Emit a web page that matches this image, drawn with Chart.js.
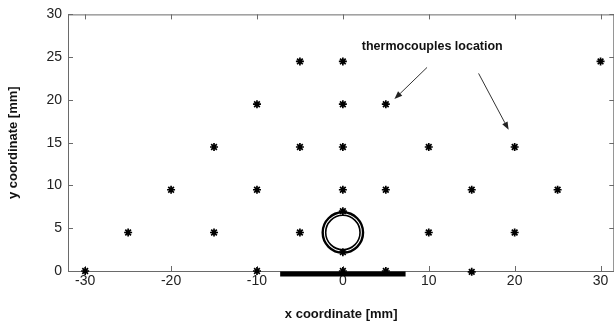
<!DOCTYPE html>
<html>
<head>
<meta charset="utf-8">
<script src="https://cdn.jsdelivr.net/npm/chart.js@4.4.1/dist/chart.umd.min.js"></script>
<style>
  html, body { margin: 0; padding: 0; background: #fff; overflow: hidden; }
  #wrap { width: 620px; height: 328px; }
</style>
</head>
<body>
<div id="wrap"><canvas id="plot" width="620" height="328"></canvas></div>
<script>
// thermocouple positions [mm]
const tcX = [-5, 0, 30,  -10, 0, 5,  -15, -5, 0, 10, 20,  -20, -10, 0, 5, 15, 25,  -25, -15, -5, 10, 20,  0, 0,  -30, -10, 0, 5, 15];
const tcY = [24.5, 24.5, 24.5,  19.5, 19.5, 19.5,  14.5, 14.5, 14.5, 14.5, 14.5,  9.5, 9.5, 9.5, 9.5, 9.5, 9.5,  4.5, 4.5, 4.5, 4.5, 4.5,  7, 2.2,  0, 0, 0, 0, -0.1];

// heater strip along the bottom and the tube cross-section
const stripX = [-7.3, 7.3];
const stripY = [-0.35, -0.35];
const tubeCenter = [0, 4.5];
const tubeRadius = 2.35;

// label and arrows (data units)
const labelText = "thermocouples location";
const labelPos = [2.2, 26.3];
const arrowFrom = [[9.8, 23.8], [15.8, 23.1]];
const arrowTo = [[6.0, 20.1], [19.3, 16.5]];

const xTicks = [-30, -20, -10, 0, 10, 20, 30];
const yTicks = [0, 5, 10, 15, 20, 25, 30];

const axisColor = "#6a6a6a";

// inward ticks on all four sides, top border, tube circle, annotations
const extras = {
    id: "extras",
    beforeDatasetsDraw(chart) {
        const c = chart.ctx;
        const xs = chart.scales.x, ys = chart.scales.y;
        const a = chart.chartArea;
        c.save();
        c.strokeStyle = axisColor;
        c.lineWidth = 1;
        c.beginPath();
        c.moveTo(a.left, a.top + 0.5);
        c.lineTo(a.right, a.top + 0.5);
        c.moveTo(a.right - 0.5, a.top);
        c.lineTo(a.right - 0.5, a.bottom);
        xTicks.forEach(v => {
            const px = Math.round(xs.getPixelForValue(v)) + 0.5;
            c.moveTo(px, a.bottom); c.lineTo(px, a.bottom - 5);
            c.moveTo(px, a.top); c.lineTo(px, a.top + 5);
        });
        yTicks.forEach(v => {
            const py = Math.round(ys.getPixelForValue(v)) + 0.5;
            c.moveTo(a.left, py); c.lineTo(a.left + 5, py);
            c.moveTo(a.right, py); c.lineTo(a.right - 5, py);
        });
        c.stroke();
        c.restore();
    },
    afterDatasetsDraw(chart) {
        const c = chart.ctx;
        const xs = chart.scales.x, ys = chart.scales.y;
        c.save();
        // tube: double circle
        const cx = xs.getPixelForValue(tubeCenter[0]);
        const cy = ys.getPixelForValue(tubeCenter[1]);
        const r = xs.getPixelForValue(tubeRadius) - xs.getPixelForValue(0);
        c.strokeStyle = "#000";
        c.lineWidth = 2.4;
        c.beginPath(); c.arc(cx, cy, r, 0, Math.PI * 2); c.stroke();
        c.lineWidth = 1.6;
        c.beginPath(); c.arc(cx, cy, r - 3, 0, Math.PI * 2); c.stroke();

        // label
        c.fillStyle = "#111";
        c.font = "bold 12.5px 'Liberation Sans', Arial, sans-serif";
        c.textBaseline = "middle";
        c.textAlign = "left";
        c.fillText(labelText, xs.getPixelForValue(labelPos[0]), ys.getPixelForValue(labelPos[1]));

        // arrows
        c.strokeStyle = "#333";
        c.fillStyle = "#222";
        c.lineWidth = 1;
        arrowFrom.forEach((f, i) => {
            const x1 = xs.getPixelForValue(f[0]), y1 = ys.getPixelForValue(f[1]);
            const x2 = xs.getPixelForValue(arrowTo[i][0]), y2 = ys.getPixelForValue(arrowTo[i][1]);
            const ang = Math.atan2(y2 - y1, x2 - x1);
            const hl = 8, hw = 3;
            c.beginPath(); c.moveTo(x1, y1); c.lineTo(x2 - hl * Math.cos(ang), y2 - hl * Math.sin(ang)); c.stroke();
            c.beginPath();
            c.moveTo(x2, y2);
            c.lineTo(x2 - hl * Math.cos(ang) + hw * Math.sin(ang), y2 - hl * Math.sin(ang) - hw * Math.cos(ang));
            c.lineTo(x2 - hl * Math.cos(ang) - hw * Math.sin(ang), y2 - hl * Math.sin(ang) + hw * Math.cos(ang));
            c.closePath(); c.fill();
        });
        c.restore();
    }
};

const font = { family: "'Liberation Sans', Arial, sans-serif", size: 14 };

new Chart(document.getElementById("plot"), {
    type: "scatter",
    data: {
        datasets: [{
            label: "strip",
            type: "line",
            data: stripX.map((x, i) => ({ x: x, y: stripY[i] })),
            borderColor: "#000",
            borderWidth: 5,
            borderCapStyle: "butt",
            pointRadius: 0,
            clip: false,
            order: 2
        }, {
            label: "thermocouples",
            data: tcX.map((x, i) => ({ x: x, y: tcY[i] })),
            pointStyle: "star",
            pointRadius: 4,
            borderColor: "#000",
            backgroundColor: "#000",
            borderWidth: 1.7,
            clip: false,
            order: 1
        }]
    },
    options: {
        responsive: false,
        animation: false,
        layout: { padding: { top: 13, right: 5, left: 0, bottom: 0 } },
        plugins: { legend: { display: false }, tooltip: { enabled: false } },
        scales: {
            x: {
                type: "linear",
                min: -32,
                max: 31.6,
                afterBuildTicks: s => { s.ticks = xTicks.map(v => ({ value: v })); },
                afterFit: s => { s.height = 57; },
                grid: { display: false, tickLength: 0 },
                border: { display: true, color: axisColor, width: 1 },
                ticks: { color: "#222", font: font, padding: 2, maxRotation: 0 },
                title: { display: true, text: "x coordinate [mm]", color: "#111",
                         font: { family: font.family, size: 13, weight: "bold" }, padding: { top: 14, bottom: 6 } }
            },
            y: {
                type: "linear",
                min: 0,
                max: 30,
                afterBuildTicks: s => { s.ticks = yTicks.map(v => ({ value: v })); },
                afterFit: s => { s.width = 68; },
                grid: { display: false, tickLength: 0 },
                border: { display: true, color: axisColor, width: 1 },
                ticks: { color: "#222", font: font, padding: 6 },
                title: { display: true, text: "y coordinate [mm]", color: "#111",
                         font: { family: font.family, size: 13, weight: "bold" }, padding: { top: 6, bottom: 12 } }
            }
        }
    },
    plugins: [extras]
});
</script>
</body>
</html>
